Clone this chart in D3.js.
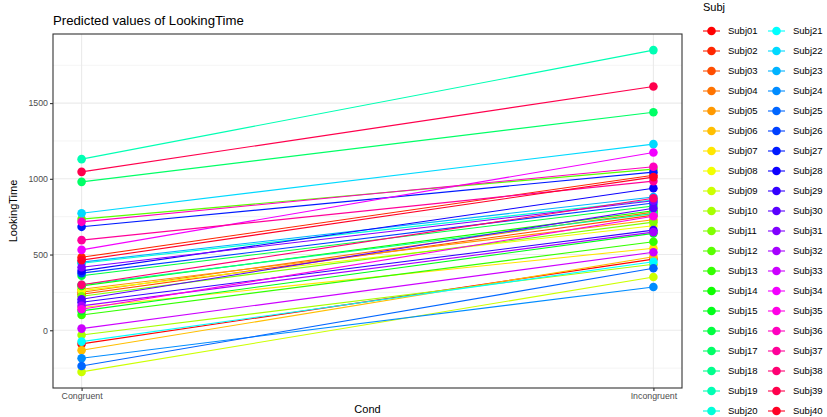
<!DOCTYPE html>
<html><head><meta charset="utf-8">
<script src="https://cdn.jsdelivr.net/npm/d3@7/dist/d3.min.js"></script>
<style>body{margin:0;background:#fff}svg{display:block}</style>
</head><body>
<svg id="c" width="827" height="417"></svg>
<script>
const categories = ["Congruent", "Incongruent"];
const subjects = d3.range(1, 41).map(i => "Subj" + String(i).padStart(2, "0"));
const congruent = [-90, 482, 238, 251, 271, -132, 150, 262, -275, -31,
  225, 734, 101, 293, 128, 360, 980, 300, 1130, 443,
  -75, 773, 450, -185, -236, 377, 683, 392, 185, 205,
  416, 161, 11, 531, 139, 716, 595, 300, 1046, 463];
const incongruent = [470, 1024, 760, 780, 730, 485, 542, 690, 352, 436,
  714, 1064, 584, 789, 640, 820, 1440, 770, 1850, 860,
  452, 1229, 880, 286, 409, 840, 1044, 938, 661, 806,
  855, 648, 515, 1174, 753, 1080, 985, 872, 1610, 1011];
const yTicks = [0, 500, 1000, 1500];
const yMinor = [-250, 250, 750, 1250, 1750];

const svg = d3.select("#c");
const L = 53, R = 682, T = 34, B = 388;
const color = d3.scaleOrdinal().domain(subjects)
  .range(subjects.map((s, i) => d3.hsl(i * 360 / 40, 1, 0.5).formatHex()));

const all = congruent.concat(incongruent);
const lo = d3.min(all), hi = d3.max(all), pad = (hi - lo) * 0.05;
const y = d3.scaleLinear().domain([lo - pad, hi + pad]).range([B, T]);
const x = d3.scalePoint().domain(categories).range([L, R]).padding(0.05);

// grid
const g = svg.append("g");
g.selectAll(".ym").data(yMinor).join("line")
  .attr("x1", L).attr("x2", R).attr("y1", d => y(d)).attr("y2", d => y(d))
  .attr("stroke", "#EBEBEB").attr("stroke-width", 0.55);
g.selectAll(".yM").data(yTicks).join("line")
  .attr("x1", L).attr("x2", R).attr("y1", d => y(d)).attr("y2", d => y(d))
  .attr("stroke", "#EBEBEB").attr("stroke-width", 1.1);
g.selectAll(".xM").data(categories).join("line")
  .attr("y1", T).attr("y2", B).attr("x1", d => x(d)).attr("x2", d => x(d))
  .attr("stroke", "#EBEBEB").attr("stroke-width", 1.1);

const data = subjects.map((s, i) => ({ s, v: [congruent[i], incongruent[i]] }));
const lineGen = d3.line().x((d, j) => x(categories[j])).y(d => y(d));
svg.append("g").selectAll("path").data(data).join("path")
  .attr("d", d => lineGen(d.v)).attr("fill", "none")
  .attr("stroke", d => color(d.s)).attr("stroke-width", 1.1);
const pts = svg.append("g");
data.forEach(d => {
  d.v.forEach((v, j) => {
    pts.append("circle").attr("cx", x(categories[j])).attr("cy", y(v)).attr("r", 4.3)
      .attr("fill", color(d.s));
  });
});

// border
svg.append("rect").attr("x", L).attr("y", T).attr("width", R - L).attr("height", B - T)
  .attr("fill", "none").attr("stroke", "#333333").attr("stroke-width", 1.1);

const ff = "Liberation Sans, Arial, sans-serif";
// axes
const ya = svg.append("g").attr("transform", `translate(${L},0)`)
  .call(d3.axisLeft(y).tickValues(yTicks).tickFormat(d3.format("d")).tickSize(3).tickPadding(2));
const xa = svg.append("g").attr("transform", `translate(0,${B})`)
  .call(d3.axisBottom(x).tickSize(3).tickPadding(2));
[ya, xa].forEach(a => {
  a.select(".domain").remove();
  a.selectAll(".tick line").attr("stroke", "#333333").attr("stroke-width", 1.1);
  a.selectAll(".tick text").attr("fill", "#4D4D4D").style("font-family", ff).style("font-size", "8.8px");
});

svg.append("text").attr("x", L).attr("y", 25).text("Predicted values of LookingTime")
  .style("font-family", ff).style("font-size", "13.2px").attr("fill", "#000");
svg.append("text").attr("x", (L + R) / 2).attr("y", 413).attr("text-anchor", "middle")
  .text("Cond").style("font-family", ff).style("font-size", "11px");
svg.append("text").attr("transform", `translate(17,${(T + B) / 2}) rotate(-90)`)
  .attr("text-anchor", "middle").text("LookingTime")
  .style("font-family", ff).style("font-size", "11px");

// legend
svg.append("text").attr("x", 703).attr("y", 11).text("Subj")
  .style("font-family", ff).style("font-size", "11px");
const lg = svg.append("g");
subjects.forEach((s, i) => {
  const col = Math.floor(i / 20), row = i % 20;
  const x0 = 703 + col * 65, yy = 31 + row * 20;
  lg.append("line").attr("x1", x0).attr("x2", x0 + 17).attr("y1", yy).attr("y2", yy)
    .attr("stroke", color(s)).attr("stroke-width", 1.1);
  lg.append("circle").attr("cx", x0 + 8.5).attr("cy", yy).attr("r", 4.3).attr("fill", color(s));
  lg.append("text").attr("x", x0 + 25).attr("y", yy + 3.4).text(s)
    .style("font-family", ff).style("font-size", "9.5px").attr("fill", "#000");
});
</script>
</body></html>
